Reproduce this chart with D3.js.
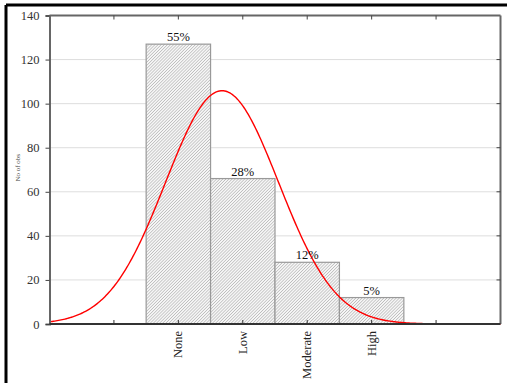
<!DOCTYPE html>
<html>
<head>
<meta charset="utf-8">
<script src="https://cdn.jsdelivr.net/npm/d3@7"></script>
<style>
  html, body { margin: 0; padding: 0; background: #fff; }
  svg { display: block; }
</style>
</head>
<body>
<script>
// Category labels and observation counts for the histogram
const categories = ["None", "Low", "Moderate", "High"];
const counts = [127, 66, 28, 12];
const percentLabels = ["55%", "28%", "12%", "5%"];
const yTicks = [0, 20, 40, 60, 80, 100, 120, 140];
const yTitle = "No of obs";

const W = 507, H = 383;
const plotLeft = 49.5, plotRight = 500.5, plotTop = 15.5, plotBottom = 324;

const svg = d3.select("body").append("svg")
  .attr("width", W).attr("height", H);

// Outer frame (only left and top edges fall inside the window)
svg.append("line").attr("x1", 6).attr("x2", W).attr("y1", 5).attr("y2", 5)
  .attr("stroke", "#000").attr("stroke-width", 3);
svg.append("line").attr("x1", 6).attr("x2", 6).attr("y1", 5).attr("y2", H)
  .attr("stroke", "#000").attr("stroke-width", 3);

// Category positions: None sits on slot 2, with two empty slots before it
const offset = 2;
const x = d3.scaleLinear().domain([0, 7]).range([plotLeft, plotRight]);
const y = d3.scaleLinear().domain([0, 140]).range([plotBottom, plotTop]);

const defs = svg.append("defs");
const pat = defs.append("pattern")
  .attr("id", "hatch").attr("patternUnits", "userSpaceOnUse")
  .attr("width", 2.2).attr("height", 2.2)
  .attr("patternTransform", "rotate(45)");
pat.append("rect").attr("width", 2.2).attr("height", 2.2).attr("fill", "#f6f6f6");
pat.append("line").attr("x1", 0).attr("y1", 0).attr("x2", 0).attr("y2", 2.2)
  .attr("stroke", "#9a9a9a").attr("stroke-width", 0.9);

// Horizontal dotted gridlines
svg.append("g").selectAll("line")
  .data(yTicks.filter(v => v > 0 && v < 140))
  .join("line")
  .attr("x1", plotLeft).attr("x2", plotRight)
  .attr("y1", d => y(d)).attr("y2", d => y(d))
  .attr("stroke", "#bbb").attr("stroke-width", 1)
  .attr("stroke-dasharray", "1,1");

// Bars
svg.append("g").selectAll("rect")
  .data(counts)
  .join("rect")
  .attr("x", (d, i) => x(i + offset - 0.5))
  .attr("width", (d, i) => x(i + offset + 0.5) - x(i + offset - 0.5))
  .attr("y", d => y(d))
  .attr("height", d => y(0) - y(d))
  .attr("fill", "url(#hatch)")
  .attr("stroke", "#999").attr("stroke-width", 1.2);

// Normal curve fitted to the counts (category index 0..3)
const n = d3.sum(counts);
const mean = d3.sum(counts, (c, i) => c * i) / n;
const sd = Math.sqrt(d3.sum(counts, (c, i) => c * (i - mean) * (i - mean)) / (n - 1));
const curvePts = d3.range(-offset, 7 - offset + 0.001, 0.02).map(v => [
  v, n / (sd * Math.sqrt(2 * Math.PI)) * Math.exp(-0.5 * ((v - mean) / sd) ** 2)
]);
svg.append("path")
  .datum(curvePts)
  .attr("fill", "none").attr("stroke", "#f00").attr("stroke-width", 1.4)
  .attr("d", d3.line().x(d => x(d[0] + offset)).y(d => y(d[1])));

// Percentage labels above bars
svg.append("g").selectAll("text")
  .data(counts)
  .join("text")
  .attr("x", (d, i) => x(i + offset))
  .attr("y", d => y(d) - 3)
  .attr("text-anchor", "middle")
  .attr("font-family", "Liberation Serif, serif")
  .attr("font-size", 12.5)
  .attr("fill", "#111")
  .text((d, i) => percentLabels[i]);

// Plot frame: top and right edges in grey
svg.append("line").attr("x1", plotLeft).attr("x2", plotRight).attr("y1", plotTop).attr("y2", plotTop)
  .attr("stroke", "#666").attr("stroke-width", 2);
svg.append("line").attr("x1", plotRight).attr("x2", plotRight).attr("y1", plotTop).attr("y2", plotBottom)
  .attr("stroke", "#666").attr("stroke-width", 2);

// Left axis
const yAxis = svg.append("g").attr("transform", `translate(${plotLeft},0)`)
  .call(d3.axisLeft(y).tickValues(yTicks).tickSize(4).tickPadding(6));
yAxis.select(".domain").attr("stroke", "#666").attr("stroke-width", 2);
yAxis.selectAll(".tick line").attr("stroke", "#444");
yAxis.selectAll(".tick text")
  .attr("font-family", "Liberation Serif, serif").attr("font-size", 12.5).attr("fill", "#333");

// Mirrored inward ticks on the right edge
svg.append("g").selectAll("line")
  .data(yTicks.filter(v => v > 0 && v < 140))
  .join("line")
  .attr("x1", plotRight - 4).attr("x2", plotRight)
  .attr("y1", d => y(d)).attr("y2", d => y(d))
  .attr("stroke", "#444");

// Top edge inward ticks
const tickSlots = d3.range(1, 7);
svg.append("g").selectAll("line")
  .data(tickSlots)
  .join("line")
  .attr("x1", d => x(d)).attr("x2", d => x(d))
  .attr("y1", plotTop).attr("y2", plotTop + 4)
  .attr("stroke", "#444");

// Bottom axis with inward ticks
svg.append("line").attr("x1", plotLeft).attr("x2", plotRight).attr("y1", plotBottom).attr("y2", plotBottom)
  .attr("stroke", "#333").attr("stroke-width", 2);
svg.append("g").selectAll("line")
  .data(tickSlots)
  .join("line")
  .attr("x1", d => x(d)).attr("x2", d => x(d))
  .attr("y1", plotBottom - 4).attr("y2", plotBottom)
  .attr("stroke", "#333");

// Rotated category labels
svg.append("g").selectAll("text")
  .data(categories)
  .join("text")
  .attr("transform", (d, i) => `translate(${x(i + offset) + 4},${plotBottom + 7}) rotate(-90)`)
  .attr("text-anchor", "end")
  .attr("font-family", "Liberation Serif, serif")
  .attr("font-size", 12.5)
  .attr("fill", "#222")
  .text(d => d);

// Y axis title
svg.append("text")
  .attr("transform", `translate(20,${(plotTop + plotBottom) / 2 - 2}) rotate(-90)`)
  .attr("text-anchor", "middle")
  .attr("font-family", "Liberation Serif, serif")
  .attr("font-size", 7)
  .attr("fill", "#444")
  .text(yTitle);
</script>
</body>
</html>
